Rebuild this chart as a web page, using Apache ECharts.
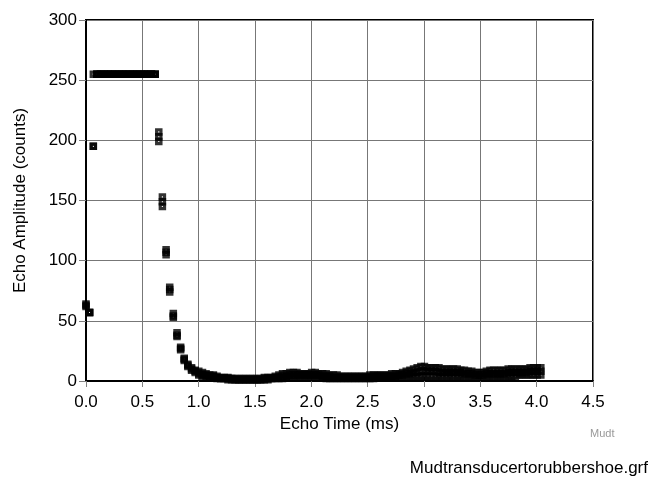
<!DOCTYPE html>
<html>
<head>
<meta charset="utf-8">
<script src="https://cdn.jsdelivr.net/npm/echarts@6/dist/echarts.min.js"></script>
<style>
html,body{margin:0;padding:0;background:#fff;}
#chart{width:655px;height:484px;}
</style>
</head>
<body>
<div id="chart"></div>
<script>
// Echo time (ms) of each sample
var times = [0.000,0.032,0.065,0.097,0.129,0.162,0.194,0.226,0.258,0.291,
0.323,0.355,0.388,0.420,0.452,0.485,0.517,0.549,0.581,0.614,
0.646,0.678,0.711,0.743,0.775,0.808,0.840,0.872,0.904,0.937,
0.969,1.001,1.034,1.066,1.098,1.131,1.163,1.195,1.227,1.260,
1.292,1.324,1.357,1.389,1.421,1.454,1.486,1.518,1.550,1.583,
1.615,1.647,1.680,1.712,1.744,1.777,1.809,1.841,1.873,1.906,
1.938,1.970,2.003,2.035,2.067,2.100,2.132,2.164,2.196,2.229,
2.261,2.293,2.326,2.358,2.390,2.423,2.455,2.487,2.519,2.552,
2.584,2.616,2.649,2.681,2.713,2.746,2.778,2.810,2.842,2.875,
2.907,2.939,2.972,3.004,3.036,3.069,3.101,3.133,3.165,3.198,
3.230,3.262,3.295,3.327,3.359,3.392,3.424,3.456,3.488,3.521,
3.553,3.585,3.618,3.650,3.682,3.715,3.747,3.779,3.811,3.844,
3.876,3.908,3.941,3.973,4.005,4.037];
// Echo amplitude (counts), scan A (upper)
var ampA = [64,57,195,255,255,255,255,255,255,255,
255,255,255,255,255,255,255,255,255,255,
207,153,109,78,56,40,28,19,14,11,
9,8,7,6,5,5,4,3,3,3,
2,2,2,2,2,2,2,2,2,3,
3,3,4,5,6,6,7,7,7,6,
6,6,7,7,6,6,6,5,5,5,
4,4,4,4,4,4,4,4,5,5,
5,5,5,5,6,6,6,7,8,9,
10,11,12,12,11,11,11,11,10,10,
10,10,10,9,9,8,8,7,7,7,
8,9,9,9,9,9,10,10,10,10,
10,10,11,11,11,11];
// Echo amplitude (counts), scan C (middle)
var ampC = [63,57,195,255,255,255,255,255,255,255,
255,255,255,255,255,255,255,255,255,255,
203,149,107,76,54,38,27,18,13,10,
8,6,5,5,4,4,3,2,2,2,
2,1,1,1,1,1,1,1,1,2,
2,2,3,3,4,4,5,5,5,5,
5,5,5,5,5,4,4,4,3,3,
3,3,3,3,3,3,3,3,3,4,
4,4,4,4,4,4,5,5,6,6,
7,7,8,8,8,8,8,7,7,7,
7,7,7,7,6,6,6,5,5,5,
6,6,6,6,6,6,7,7,7,7,
7,7,8,8,8,8];
// Echo amplitude (counts), scan B (lower)
var ampB = [62,57,255,255,255,255,255,255,255,255,
255,255,255,255,255,255,255,255,255,255,
199,145,105,74,53,37,26,17,12,9,
7,5,4,4,3,3,2,2,2,1,
1,1,1,1,1,1,1,1,1,1,
1,2,2,2,2,3,3,3,3,3,
3,3,3,3,3,3,2,2,2,2,
2,2,2,2,2,2,2,2,2,2,
3,3,3,3,3,3,3,3,4,4,
4,4,4,4,4,4,4,4,4,4,
4,4,4,4,4,4,4,3,3,3,
4,4,4,4,4,4,4,4,4,5,
5,5,5,5,5,5];
var xTicks = [0,0.5,1,1.5,2,2.5,3,3.5,4,4.5];
var yTicks = [0,50,100,150,200,250,300];

var chart = echarts.init(document.getElementById('chart'));
var font = 'Liberation Sans, Arial, sans-serif';
function pairs(ys){ return times.map(function(t,i){ return [t, ys[i]]; }); }
// hollow square with a thick border (outer square minus small inner hole)
var hollowSquare = 'path://M0,0H8V8H0Z M3.4,3.4V4.6H4.6V3.4Z';
function scan(ys){
  return {type:'scatter', data:pairs(ys), symbol:hollowSquare, symbolSize:7.5,
    itemStyle:{color:'#000'}, z:3};
}
chart.setOption({
  animation:false,
  backgroundColor:'#fff',
  grid:{left:86, right:62, top:20, bottom:103, show:true, borderColor:'#000', borderWidth:2},
  xAxis:{
    type:'value', min:xTicks[0], max:xTicks[xTicks.length-1], interval:0.5,
    name:'Echo Time (ms)', nameLocation:'middle', nameGap:33,
    nameTextStyle:{fontFamily:font, fontSize:17, color:'#000'},
    axisLine:{show:true, lineStyle:{color:'#000', width:2}},
    axisTick:{show:true, inside:false, length:6, lineStyle:{color:'#808080'}},
    axisLabel:{fontFamily:font, fontSize:17, color:'#000', margin:13,
      formatter:function(v){return v.toFixed(1);}},
    splitLine:{show:true, lineStyle:{color:'#777', width:1}}
  },
  yAxis:{
    type:'value', min:yTicks[0], max:yTicks[yTicks.length-1], interval:50,
    name:'Echo Amplitude (counts)', nameLocation:'middle', nameGap:57,
    nameTextStyle:{fontFamily:font, fontSize:17, color:'#000'},
    axisLine:{show:true, lineStyle:{color:'#000', width:2}},
    axisTick:{show:true, inside:false, length:7, lineStyle:{color:'#808080'}},
    axisLabel:{fontFamily:font, fontSize:17, color:'#000', margin:9},
    splitLine:{show:true, lineStyle:{color:'#777', width:1}}
  },
  graphic:[
    {type:'text', left:590, top:428, style:{text:'Mudt', font:'11px '+font, fill:'#999'}},
    {type:'text', right:7, top:460, style:{text:'Mudtransducertorubbershoe.grf', font:'17px '+font, fill:'#000'}}
  ],
  series:[scan(ampA), scan(ampC), scan(ampB)]
});
</script>
</body>
</html>
